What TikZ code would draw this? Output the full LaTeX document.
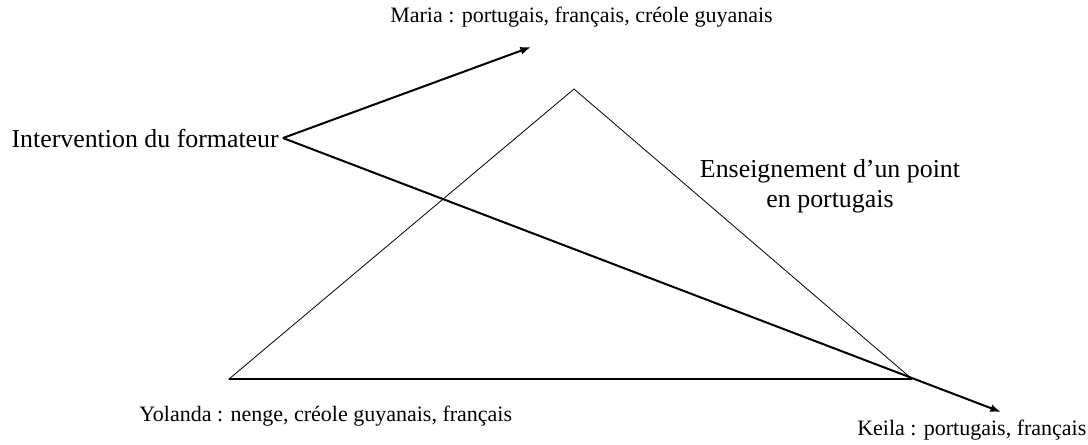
\documentclass[tikz,border=0pt]{standalone}
\usepackage{fontspec}
\setmainfont{Liberation Serif}
\usetikzlibrary{positioning, arrows.meta}

\begin{document}
\begin{tikzpicture}[x=0.75pt, y=-0.75pt,
    label/.style={inner sep=0pt, font=\fontsize{16.5}{19}\selectfont},
    biglabel/.style={inner sep=0pt, font=\fontsize{19.4}{22.5}\selectfont},
    link/.style={line width=1.5pt, -{Latex[length=8pt, width=6pt]}},
    side/.style={line width=0.6pt}]
    \useasboundingbox (0,0) rectangle (1088,444);

    % Triangle of the three learners
    \coordinate (apex) at (574,89);
    \coordinate (yol) at (229,379);
    \coordinate (kei) at (912,379);
    \draw[side] (apex) -- (yol) -- (kei) -- cycle;
    \draw[line width=0.9pt] (yol) -- (kei);

    % Labels
    \node[biglabel, anchor=base east] (form) at (279,147) {Intervention du formateur};
    \node[label, anchor=base west] (maria) at (390,22) {Maria : portugais, français, créole guyanais};
    \node[biglabel, align=center] (ens) at (830,186) {Enseignement d’un point\\en portugais};
    \node[label, anchor=base west] (yolanda) at (139,421) {Yolanda : nenge, créole guyanais, français};
    \node[label, anchor=base west] (keila) at (857,435) {Keila : portugais, français};

    % Arrows from the trainer
    \coordinate (tomaria) at (531,47);
    \coordinate (tokeila) at (1001,412);
    \draw[link] ([xshift=3pt]form.east) -- (tomaria);
    \draw[link] ([xshift=3pt]form.east) -- (tokeila);
\end{tikzpicture}
\end{document}
